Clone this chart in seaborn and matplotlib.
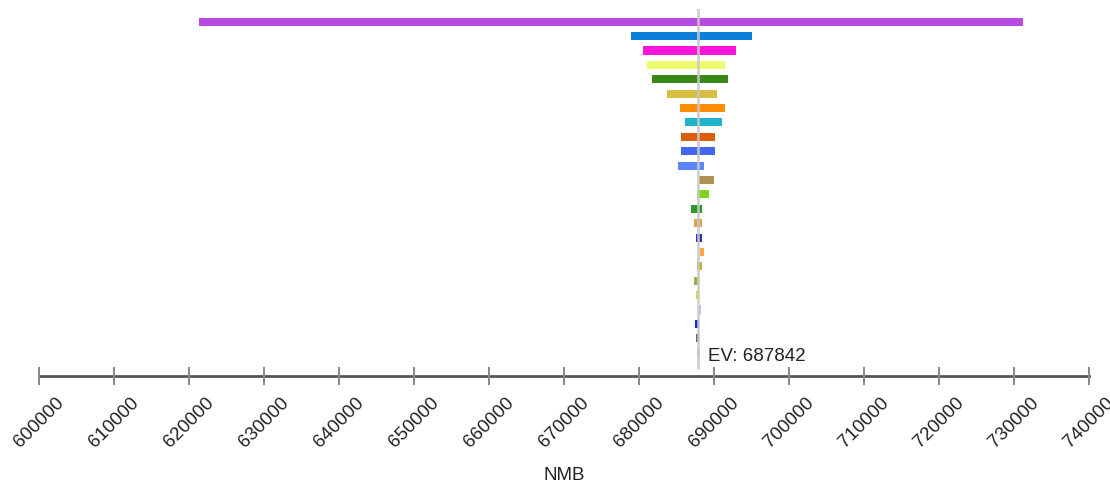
import numpy as np
import pandas as pd
import seaborn as sns
import matplotlib.pyplot as plt

# tornado data: one row per parameter, low / high NMB
ev = 687842
low = [621370, 678910, 680470, 681090, 681750, 683670, 685400, 686070,
       685620, 685620, 685180, 688020, 687750, 686910, 687310, 687540,
       688070, 687710, 687310, 687540, 687940, 687450, 687600, 687700]
high = [731200, 695080, 692910, 691400, 691840, 690340, 691400, 691000,
        690150, 690150, 688600, 689940, 689270, 688420, 688420, 688420,
        688640, 688420, 687940, 687940, 688300, 687980, 687980, 688070]
colors = ["#b94ae3", "#0b80d8", "#fa14dc", "#ecfc6e", "#3a871a", "#d8be40",
          "#fb8c0a", "#1eb4cc", "#dc5f10", "#4664ee", "#5a88fa", "#b09050",
          "#7ed418", "#2a982a", "#e0a048", "#3434b4", "#ffa444", "#c8b030",
          "#98b444", "#c8e40c", "#dcb4f0", "#1428dc", "#646464", "#c8dcb4"]
xticks = list(range(600000, 740001, 10000))

df = pd.DataFrame({"low": low, "high": high, "color": colors})
df["row"] = np.arange(len(df))

sns.set_style("white")
plt.rcParams['font.family'] = ['Liberation Sans', 'DejaVu Sans']

fig = plt.figure(figsize=(11.1, 4.87), dpi=100)
ax = fig.add_axes([39 / 1110, (487 - 375.7) / 487, (1089.3 - 39) / 1110, (375.7 - 9) / 487])

ax.barh(df["row"], df["high"] - df["low"], left=df["low"], height=0.56,
        color=df["color"], linewidth=0)

ax.axvline(ev, ymin=0.021, ymax=1, color="#c8c8c8", lw=2, alpha=0.85, zorder=3)
ax.annotate("EV: %d" % ev, xy=(ev, 23.56), xytext=(7.3, 0), textcoords="offset points",
            fontsize=13.5, color="#222222", va="baseline", ha="left")

ax.set_xlim(600000, 740000)
ax.set_ylim(24.6, -0.883)
ax.set_yticks([])
ax.set_xticks(xticks)
ax.set_xticklabels([str(t) for t in xticks], rotation=45, ha="center", va="top",
                   fontsize=13.5, color="#222222")
ax.tick_params(axis="x", bottom=True, direction="inout", length=12.5, width=1.4,
               color="#888888", pad=7)
ax.set_xlabel("NMB", fontsize=13.5, color="#222222", labelpad=12)

for s in ["top", "left", "right"]:
    ax.spines[s].set_visible(False)
ax.spines["bottom"].set_color("#555555")
ax.spines["bottom"].set_linewidth(2)
ax.spines["bottom"].set_zorder(0.5)

fig.savefig("out.png", dpi=100)
